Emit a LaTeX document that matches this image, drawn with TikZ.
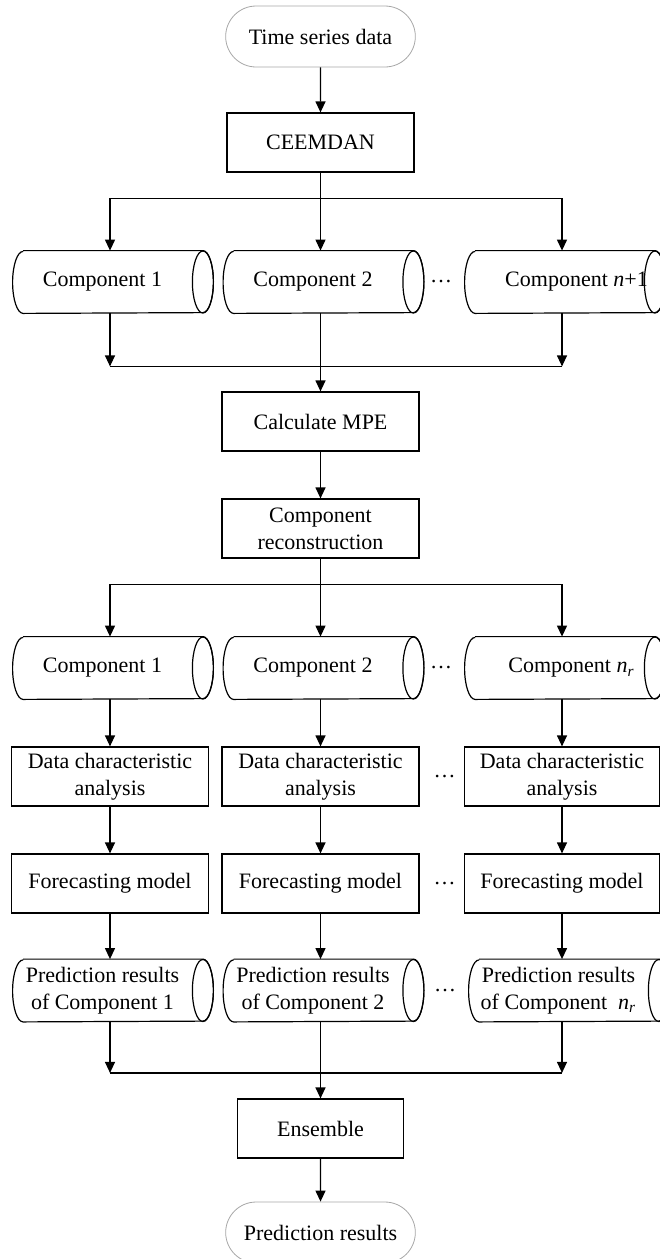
\documentclass[tikz,border=0pt]{standalone}
\usepackage{fontspec}
\setmainfont{Liberation Serif}
\usetikzlibrary{shapes,arrows,arrows.meta,positioning}

% outline of a lying cylinder round a data node
\newcommand{\drawcyl}[1]{%
    \draw [semithick] ([xshift=5.25pt]#1.north west) -- ([xshift=5.25pt]#1.north east)
        arc [start angle=90, end angle=-90, x radius=5.25pt, y radius=15.5pt]
        -- ([xshift=5.25pt]#1.south west)
        arc [start angle=270, end angle=90, x radius=5.25pt, y radius=15.5pt];
    \draw [semithick] ([xshift=5.25pt]#1.east) ellipse [x radius=5.25pt, y radius=15.5pt];}

\begin{document}
\begin{tikzpicture}[x=0.5pt, y=-0.5pt, font=\fontsize{11}{13.5}\selectfont]
    \tikzstyle{terminal} = [rounded rectangle, draw=gray!70, thin, minimum width=101.5pt, minimum height=30.5pt]
    \tikzstyle{process} = [rectangle, draw, semithick, minimum width=98.5pt, minimum height=29.5pt, align=center, inner sep=2pt]
    \tikzstyle{data} = [rectangle, minimum width=89.5pt, minimum height=31pt, align=center, inner sep=0pt]
    \tikzstyle{arrow} = [semithick,->,>={Triangle[length=5.5pt,width=5pt]}]
    \tikzstyle{dots} = [inner sep=0pt]
    \useasboundingbox (0,0) rectangle (659,1259);

    % decomposition
    \node [terminal] (start) at (320.5,36.5) {Time series data};
    \node [process, below of=start, node distance=53pt, minimum width=93.5pt] (ceemdan) {CEEMDAN};
    \node [data, below of=ceemdan, node distance=69.75pt, xshift=-3.75pt] (c12) {Component 2};
    \node [data, left of=c12, node distance=105.25pt] (c11) {Component 1};
    \node [data, right of=c12, node distance=120.75pt] (c13) {\makebox[60pt]{\hspace{22pt}Component \textit{n}+1}};
    \node [dots, right of=c12, node distance=64pt] (d1) {…};

    % reconstruction
    \node [process, below of=ceemdan, node distance=139.5pt] (mpe) {Calculate MPE};
    \node [process, below of=mpe, node distance=53.5pt] (recon) {Component\\reconstruction};
    \node [data, below of=recon, node distance=69.75pt, xshift=-3.75pt] (c22) {Component 2};
    \node [data, left of=c22, node distance=105.25pt] (c21) {Component 1};
    \node [data, right of=c22, node distance=120.75pt] (c23) {\makebox[60pt]{\hspace{17pt}Component \textit{n}\textsubscript{\textit{r}}}};
    \node [dots, right of=c22, node distance=64pt] (d2) {…};

    % forecasting of each component
    \node [process, below of=recon, node distance=124pt] (dca2) {Data characteristic\\analysis};
    \node [process, left of=dca2, node distance=105.25pt] (dca1) {Data characteristic\\analysis};
    \node [process, right of=dca2, node distance=120.75pt, minimum width=97.5pt] (dca3) {Data characteristic\\analysis};
    \node [dots, right of=dca2, node distance=62pt] (d3) {…};
    \node [process, below of=dca2, node distance=53.5pt] (fm2) {Forecasting model};
    \node [process, left of=fm2, node distance=105.25pt] (fm1) {Forecasting model};
    \node [process, right of=fm2, node distance=120.75pt, minimum width=97.5pt] (fm3) {Forecasting model};
    \node [dots, right of=fm2, node distance=62pt] (d4) {…};
    \node [data, below of=fm2, node distance=53.5pt, xshift=-3.75pt] (pr2) {Prediction results\\of Component 2};
    \node [data, left of=pr2, node distance=105.25pt] (pr1) {Prediction results\\of Component 1};
    \node [data, right of=pr2, node distance=122.75pt] (pr3) {Prediction results\\of Component\ \ \textit{n}\textsubscript{\textit{r}}};
    \node [dots, right of=pr2, node distance=66pt] (d5) {…};

    % ensemble
    \node [process, below of=fm2, node distance=122.5pt, minimum width=83pt] (ens) {Ensemble};
    \node [terminal, below of=ens, node distance=52pt] (stop) {Prediction results};

    \drawcyl{c11} \drawcyl{c12} \drawcyl{c13}
    \drawcyl{c21} \drawcyl{c22} \drawcyl{c23}
    \drawcyl{pr1} \drawcyl{pr2} \drawcyl{pr3}

    \draw [arrow] (start) -- (ceemdan);
    \coordinate (b1) at ([yshift=-13pt]ceemdan.south);
    \draw [arrow] (ceemdan) -- (ceemdan |- c12.north);
    \draw [arrow] (b1) -| (dca1 |- c11.north);
    \draw [arrow] (b1) -| (dca3 |- c13.north);
    \coordinate (m1) at ([yshift=-26.5pt]c12.south);
    \draw [arrow] (dca1 |- c11.south) -- (dca1 |- m1);
    \draw [arrow] (dca3 |- c13.south) -- (dca3 |- m1);
    \draw [semithick] (dca1 |- m1) -- (dca3 |- m1);
    \draw [arrow] (mpe |- c12.south) -- (mpe);
    \draw [arrow] (mpe) -- (recon);
    \coordinate (b2) at ([yshift=-13pt]recon.south);
    \draw [arrow] (recon) -- (recon |- c22.north);
    \draw [arrow] (b2) -| (dca1 |- c21.north);
    \draw [arrow] (b2) -| (dca3 |- c23.north);
    \draw [arrow] (dca1 |- c21.south) -- (dca1);
    \draw [arrow] (dca2 |- c22.south) -- (dca2);
    \draw [arrow] (dca3 |- c23.south) -- (dca3);
    \draw [arrow] (dca1) -- (fm1);
    \draw [arrow] (dca2) -- (fm2);
    \draw [arrow] (dca3) -- (fm3);
    \draw [arrow] (fm1) -- (fm1 |- pr1.north);
    \draw [arrow] (fm2) -- (fm2 |- pr2.north);
    \draw [arrow] (fm3) -- (fm3 |- pr3.north);
    \coordinate (m2) at ([yshift=-25.5pt]pr2.south);
    \draw [arrow] (fm1 |- pr1.south) -- (fm1 |- m2);
    \draw [arrow] (fm3 |- pr3.south) -- (fm3 |- m2);
    \draw [semithick] (fm1 |- m2) -- (fm3 |- m2);
    \draw [arrow] (ens |- pr2.south) -- (ens);
    \draw [arrow] (ens) -- (stop);
\end{tikzpicture}
\end{document}
